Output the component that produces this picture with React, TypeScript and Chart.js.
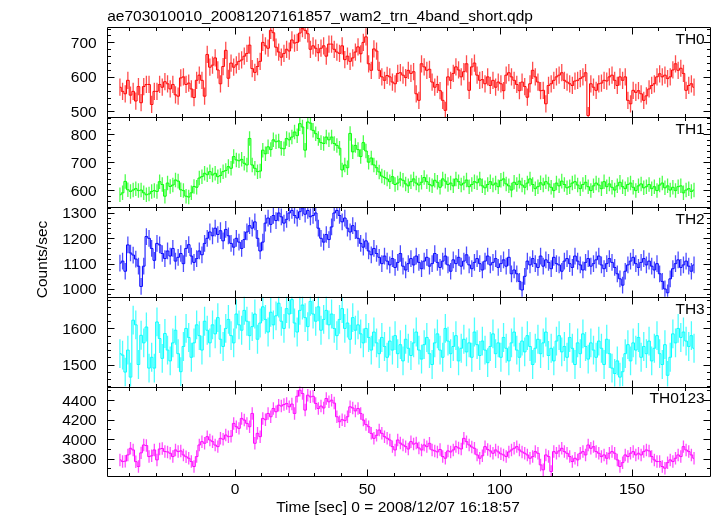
import React, { useEffect, useRef } from 'react';
import { Chart, registerables } from 'chart.js';

Chart.register(...registerables);

const TITLE = 'ae703010010_20081207161857_wam2_trn_4band_short.qdp';
const X_TITLE = 'Time [sec] 0 = 2008/12/07 16:18:57';
const Y_TITLE = 'Counts/sec';

const T_START = -43.5; // centre of first 1 s bin
const BIN = 1;
const X_MIN = -48.5;
const X_MAX = 179.8;
const X_TICKS = [0, 50, 100, 150];
const X_MINOR = 10;

const TH0 = [
  570,558,551,590,547,558,530,572,525,572,
  578,578,520,558,558,578,570,586,580,565,
  578,548,544,597,600,578,582,565,540,590,
  605,590,544,665,628,634,655,620,580,630,
  677,596,640,628,635,645,649,660,668,692,
  624,613,630,645,700,690,683,735,728,686,
  672,657,668,680,675,707,698,700,727,740,
  735,725,680,690,683,670,683,690,660,695,
  695,680,672,668,690,650,660,645,655,672,
  687,667,700,716,638,619,681,675,619,600,
  590,604,600,585,580,610,612,605,598,619,
  610,615,551,532,638,629,619,622,585,570,
  578,560,532,503,600,590,610,629,620,600,
  615,638,561,629,640,605,590,592,580,600,
  575,590,570,585,580,560,605,612,600,590,
  578,560,585,572,541,580,619,600,585,560,
  561,522,575,580,590,600,605,612,590,585,
  580,575,588,590,595,600,612,488,580,570,
  561,580,582,590,588,600,605,590,575,600,
  590,600,532,522,561,555,560,551,532,545,
  565,575,580,600,609,600,605,595,600,620,
  638,619,625,610,561,575,580,570,
];
const TH1 = [
  583,590,631,601,595,600,605,598,600,590,
  583,586,595,598,595,630,620,578,625,613,
  618,636,632,601,598,578,575,590,613,610,
  643,648,660,655,666,654,660,648,652,666,
  670,684,678,720,708,705,710,696,690,785,
  690,678,666,668,743,730,755,745,780,773,
  776,750,748,785,780,790,808,795,838,826,
  743,844,840,814,802,785,770,767,790,780,
  790,767,760,750,672,690,680,803,737,760,
  745,720,770,740,700,715,690,680,665,650,
  645,640,630,648,620,625,640,635,622,615,
  630,640,625,618,628,645,630,620,615,635,
  628,610,640,632,620,625,615,640,630,618,
  625,636,612,620,630,626,640,615,608,620,
  630,618,625,612,635,640,622,615,600,628,
  620,632,618,610,625,640,620,605,612,626,
  618,630,622,610,598,625,615,632,620,608,
  612,625,630,618,605,620,628,612,598,615,
  625,618,605,630,612,622,610,600,615,628,
  612,605,620,625,610,598,615,622,608,612,
  620,605,612,598,618,625,608,615,600,610,
  598,612,615,590,600,605,595,600,
];
const TH2 = [
  1102,1110,1070,1174,1142,1134,1118,1090,1010,1090,
  1207,1200,1160,1113,1180,1174,1140,1120,1150,1130,
  1160,1110,1125,1140,1100,1160,1175,1130,1105,1120,
  1150,1135,1180,1200,1225,1210,1240,1215,1230,1190,
  1235,1210,1180,1165,1200,1185,1160,1195,1225,1250,
  1240,1265,1200,1150,1185,1260,1280,1255,1290,1270,
  1300,1285,1260,1275,1300,1310,1290,1280,1305,1320,
  1295,1310,1285,1290,1300,1240,1200,1185,1215,1195,
  1245,1300,1310,1290,1265,1280,1240,1225,1250,1230,
  1200,1180,1165,1190,1150,1135,1160,1140,1125,1100,
  1130,1110,1095,1120,1085,1105,1140,1090,1075,1100,
  1120,1095,1130,1105,1080,1110,1125,1090,1100,1140,
  1105,1085,1110,1130,1095,1070,1115,1100,1125,1090,
  1110,1135,1095,1080,1105,1120,1100,1075,1110,1130,
  1095,1105,1120,1085,1100,1115,1090,1125,1060,1075,
  1060,1030,996,1050,1110,1095,1120,1100,1085,1130,
  1090,1115,1105,1080,1125,1100,1095,1070,1110,1120,
  1100,1085,1130,1110,1095,1075,1105,1120,1090,1100,
  1115,1130,1095,1080,1100,1120,1105,1085,1060,1040,
  1015,1070,1095,1110,1125,1100,1085,1105,1120,1095,
  1110,1090,1075,1100,1060,1030,1000,985,1040,1080,
  1100,1115,1085,1095,1110,1090,1070,1095,
];
const TH3 = [
  1530,1526,1479,1540,1465,1623,1610,1500,1581,1560,
  1604,1490,1520,1490,1618,1572,1517,1586,1540,1510,
  1560,1595,1530,1480,1550,1600,1575,1520,1560,1610,
  1580,1540,1620,1595,1560,1610,1585,1630,1570,1550,
  1600,1625,1580,1560,1640,1610,1595,1650,1620,1580,
  1605,1640,1570,1615,1660,1625,1590,1645,1610,1635,
  1670,1620,1600,1655,1640,1680,1615,1590,1650,1665,
  1630,1605,1675,1640,1620,1660,1595,1625,1650,1610,
  1640,1600,1580,1625,1655,1600,1615,1570,1630,1595,
  1610,1585,1560,1600,1575,1540,1590,1560,1530,1575,
  1550,1520,1565,1540,1580,1530,1555,1510,1570,1545,
  1525,1560,1590,1540,1515,1555,1575,1530,1500,1560,
  1585,1540,1520,1600,1565,1530,1550,1580,1510,1545,
  1570,1535,1560,1520,1590,1555,1525,1565,1540,1505,
  1550,1585,1530,1560,1520,1575,1545,1510,1560,1590,
  1540,1520,1565,1535,1580,1550,1500,1545,1570,1530,
  1560,1590,1525,1545,1510,1565,1580,1535,1550,1520,
  1575,1545,1500,1560,1530,1585,1550,1515,1560,1540,
  1520,1565,1545,1500,1570,1530,1490,1475,1510,1465,
  1480,1530,1555,1510,1560,1540,1575,1520,1550,1530,
  1565,1510,1545,1580,1530,1500,1555,1470,1520,1585,
  1560,1600,1575,1590,1565,1550,1580,1545,
];
const TH0123 = [
  3788,3771,3775,3839,3907,3890,3770,3720,3860,3941,
  3935,3822,3830,3890,3788,3900,3905,3873,3870,3856,
  3822,3890,3873,3880,3839,3820,3805,3771,3720,3822,
  3941,3975,3958,4026,3992,3975,3940,3924,4009,4000,
  4043,4026,4030,4162,4128,4111,4213,4196,4162,4128,
  4264,3958,4060,4026,4213,4200,4264,4230,4315,4281,
  4349,4340,4355,4366,4332,4360,4264,4440,4502,4468,
  4298,4451,4434,4440,4366,4315,4340,4320,4417,4383,
  4400,4370,4230,4179,4200,4190,4230,4332,4320,4290,
  4315,4264,4196,4150,4128,4060,4009,4040,4094,4060,
  4026,4010,3992,3924,3890,3992,3960,3941,3924,3900,
  3975,3950,3960,3910,3890,3941,3924,3958,3890,3880,
  3870,3895,3822,3805,3880,3870,3890,3924,3910,3900,
  4009,3975,3941,3920,3907,3839,3805,3830,3924,3895,
  3880,3856,3890,3870,3850,3839,3822,3870,3890,3907,
  3924,3890,3870,3856,3839,3805,3822,3873,3856,3737,
  3686,3839,3822,3669,3873,3856,3880,3907,3873,3856,
  3822,3771,3805,3788,3856,3873,3839,3941,3907,3924,
  3873,3856,3822,3839,3805,3856,3873,3856,3788,3720,
  3760,3839,3822,3856,3873,3839,3856,3839,3873,3890,
  3880,3822,3788,3771,3771,3720,3703,3760,3788,3771,
  3805,3839,3822,3924,3890,3873,3839,3805,
];

// 1-sigma errors per 1 s bin for each band
const ERR_TH0 = 25;
const ERR_TH1 = 26;
const ERR_TH2 = 33;
const ERR_TH3 = 40;
const ERR_TH0123 = 64;

const Y_TICKS_TH0 = [500, 600, 700];
const Y_TICKS_TH1 = [600, 700, 800];
const Y_TICKS_TH2 = [1000, 1100, 1200, 1300];
const Y_TICKS_TH3 = [1500, 1600];
const Y_TICKS_TH0123 = [3800, 4000, 4200, 4400];

const TIMES = TH0.map((_, i) => T_START + i * BIN);

const PANELS = [
  { name: 'TH0', values: TH0, err: ERR_TH0, color: '#ff0000', min: 483.4, max: 743.7, ticks: Y_TICKS_TH0, minor: 20 },
  { name: 'TH1', values: TH1, err: ERR_TH1, color: '#00ff00', min: 539.6, max: 861.5, ticks: Y_TICKS_TH1, minor: 20 },
  { name: 'TH2', values: TH2, err: ERR_TH2, color: '#0000ff', min: 969.5, max: 1324, ticks: Y_TICKS_TH2, minor: 20 },
  { name: 'TH3', values: TH3, err: ERR_TH3, color: '#00ffff', min: 1439, max: 1688, ticks: Y_TICKS_TH3, minor: 20 },
  { name: 'TH0123', values: TH0123, err: ERR_TH0123, color: '#ff00ff', min: 3620, max: 4540, ticks: Y_TICKS_TH0123, minor: 100 },
];

const FONT = '15.5px "Liberation Sans", Arial, Helvetica, sans-serif';
const MAJOR_LEN = 7;
const MINOR_LEN = 3.5;

const qdpPlugin = {
  id: 'qdpPanels',
  afterDatasetsDraw(chart: any) {
    const ctx = chart.ctx;
    const xs = chart.scales.x;
    const ca = chart.chartArea;
    PANELS.forEach((p, i) => {
      const ys = chart.scales['y' + i];
      ctx.save();
      ctx.beginPath();
      ctx.rect(ca.left, ys.top, ca.right - ca.left, ys.bottom - ys.top);
      ctx.clip();
      ctx.strokeStyle = p.color;
      ctx.globalAlpha = 0.7;
      ctx.lineWidth = 1.3;
      ctx.beginPath();
      p.values.forEach((v, j) => {
        const px = xs.getPixelForValue(TIMES[j]);
        ctx.moveTo(px, ys.getPixelForValue(v - p.err));
        ctx.lineTo(px, ys.getPixelForValue(v + p.err));
      });
      ctx.stroke();
      ctx.restore();
    });
  },
  afterDraw(chart: any) {
    const ctx = chart.ctx;
    const xs = chart.scales.x;
    const ca = chart.chartArea;
    const L = Math.round(ca.left) + 0.5;
    const R = Math.round(ca.right) - 0.5;
    ctx.save();
    ctx.strokeStyle = '#000';
    ctx.fillStyle = '#000';
    ctx.lineWidth = 1;
    ctx.font = FONT;

    PANELS.forEach((p, i) => {
      const ys = chart.scales['y' + i];
      const T = Math.round(ys.top) + 0.5;
      const B = Math.round(ys.bottom) + 0.5;
      ctx.beginPath();
      ctx.rect(L, T, R - L, B - T);
      ctx.stroke();

      // y ticks (left and right, inward)
      ctx.beginPath();
      const start = Math.ceil(p.min / p.minor) * p.minor;
      for (let v = start; v <= p.max; v += p.minor) {
        const y = Math.round(ys.getPixelForValue(v)) + 0.5;
        const len = p.ticks.includes(v) ? MAJOR_LEN : MINOR_LEN;
        ctx.moveTo(L, y);
        ctx.lineTo(L + len, y);
        ctx.moveTo(R, y);
        ctx.lineTo(R - len, y);
      }
      // x ticks (top and bottom, inward)
      const xs0 = Math.ceil(X_MIN / X_MINOR) * X_MINOR;
      for (let t = xs0; t <= X_MAX; t += X_MINOR) {
        const x = Math.round(xs.getPixelForValue(t)) + 0.5;
        const len = t % 50 === 0 ? MAJOR_LEN : MINOR_LEN;
        ctx.moveTo(x, T);
        ctx.lineTo(x, T + len);
        ctx.moveTo(x, B);
        ctx.lineTo(x, B - len);
      }
      ctx.stroke();

      // y tick labels
      ctx.textAlign = 'right';
      ctx.textBaseline = 'alphabetic';
      p.ticks.forEach((v) => {
        const y = ys.getPixelForValue(v);
        ctx.fillText(String(v), ca.left - 10, y + 5.5);
      });

      // panel name
      ctx.textAlign = 'right';
      ctx.fillText(p.name, ca.right - 6, ys.top + 16.8);
    });

    // x tick labels
    const lastY = chart.scales['y' + (PANELS.length - 1)];
    ctx.textAlign = 'center';
    ctx.textBaseline = 'alphabetic';
    X_TICKS.forEach((t) => {
      ctx.fillText(String(t), xs.getPixelForValue(t), lastY.bottom + 17.2);
    });

    // titles
    ctx.fillText(X_TITLE, 398, 511.7);
    ctx.textAlign = 'left';
    ctx.fillText(TITLE, ca.left + 0.5, 21);

    ctx.save();
    ctx.translate(46.5, 259.5);
    ctx.rotate(-Math.PI / 2);
    ctx.textAlign = 'center';
    ctx.fillText(Y_TITLE, 0, 0);
    ctx.restore();

    ctx.restore();
  },
};

export default function App() {
  const ref = useRef<HTMLCanvasElement | null>(null);
  useEffect(() => {
    const canvas = ref.current;
    if (!canvas) return;
    const scales: any = {
      x: { type: 'linear', min: X_MIN, max: X_MAX, display: false },
    };
    PANELS.forEach((p, i) => {
      scales['y' + i] = {
        type: 'linear',
        position: 'left',
        stack: 'panels',
        stackWeight: 1,
        weight: PANELS.length - i,
        min: p.min,
        max: p.max,
        display: false,
      };
    });
    const chart = new Chart(canvas, {
      type: 'line',
      data: {
        datasets: PANELS.map((p, i) => ({
          label: p.name,
          data: p.values.map((v, j) => ({ x: TIMES[j], y: v })),
          xAxisID: 'x',
          yAxisID: 'y' + i,
          borderColor: p.color,
          backgroundColor: p.color,
          borderWidth: 1,
          pointRadius: 0,
          stepped: 'middle',
          fill: false,
        })),
      },
      options: {
        responsive: false,
        maintainAspectRatio: false,
        animation: false,
        devicePixelRatio: 1,
        events: [],
        layout: { padding: { left: 106.7, right: 6.3, top: 27.3, bottom: 39.7 } },
        plugins: {
          legend: { display: false },
          tooltip: { enabled: false },
          title: { display: false },
        },
        scales,
      } as any,
      plugins: [qdpPlugin],
    });
    return () => chart.destroy();
  }, []);
  return (
    <canvas
      ref={ref}
      width={717}
      height={516}
      style={{ position: 'fixed', left: 0, top: 0, width: 717, height: 516, background: '#fff' }}
    />
  );
}
